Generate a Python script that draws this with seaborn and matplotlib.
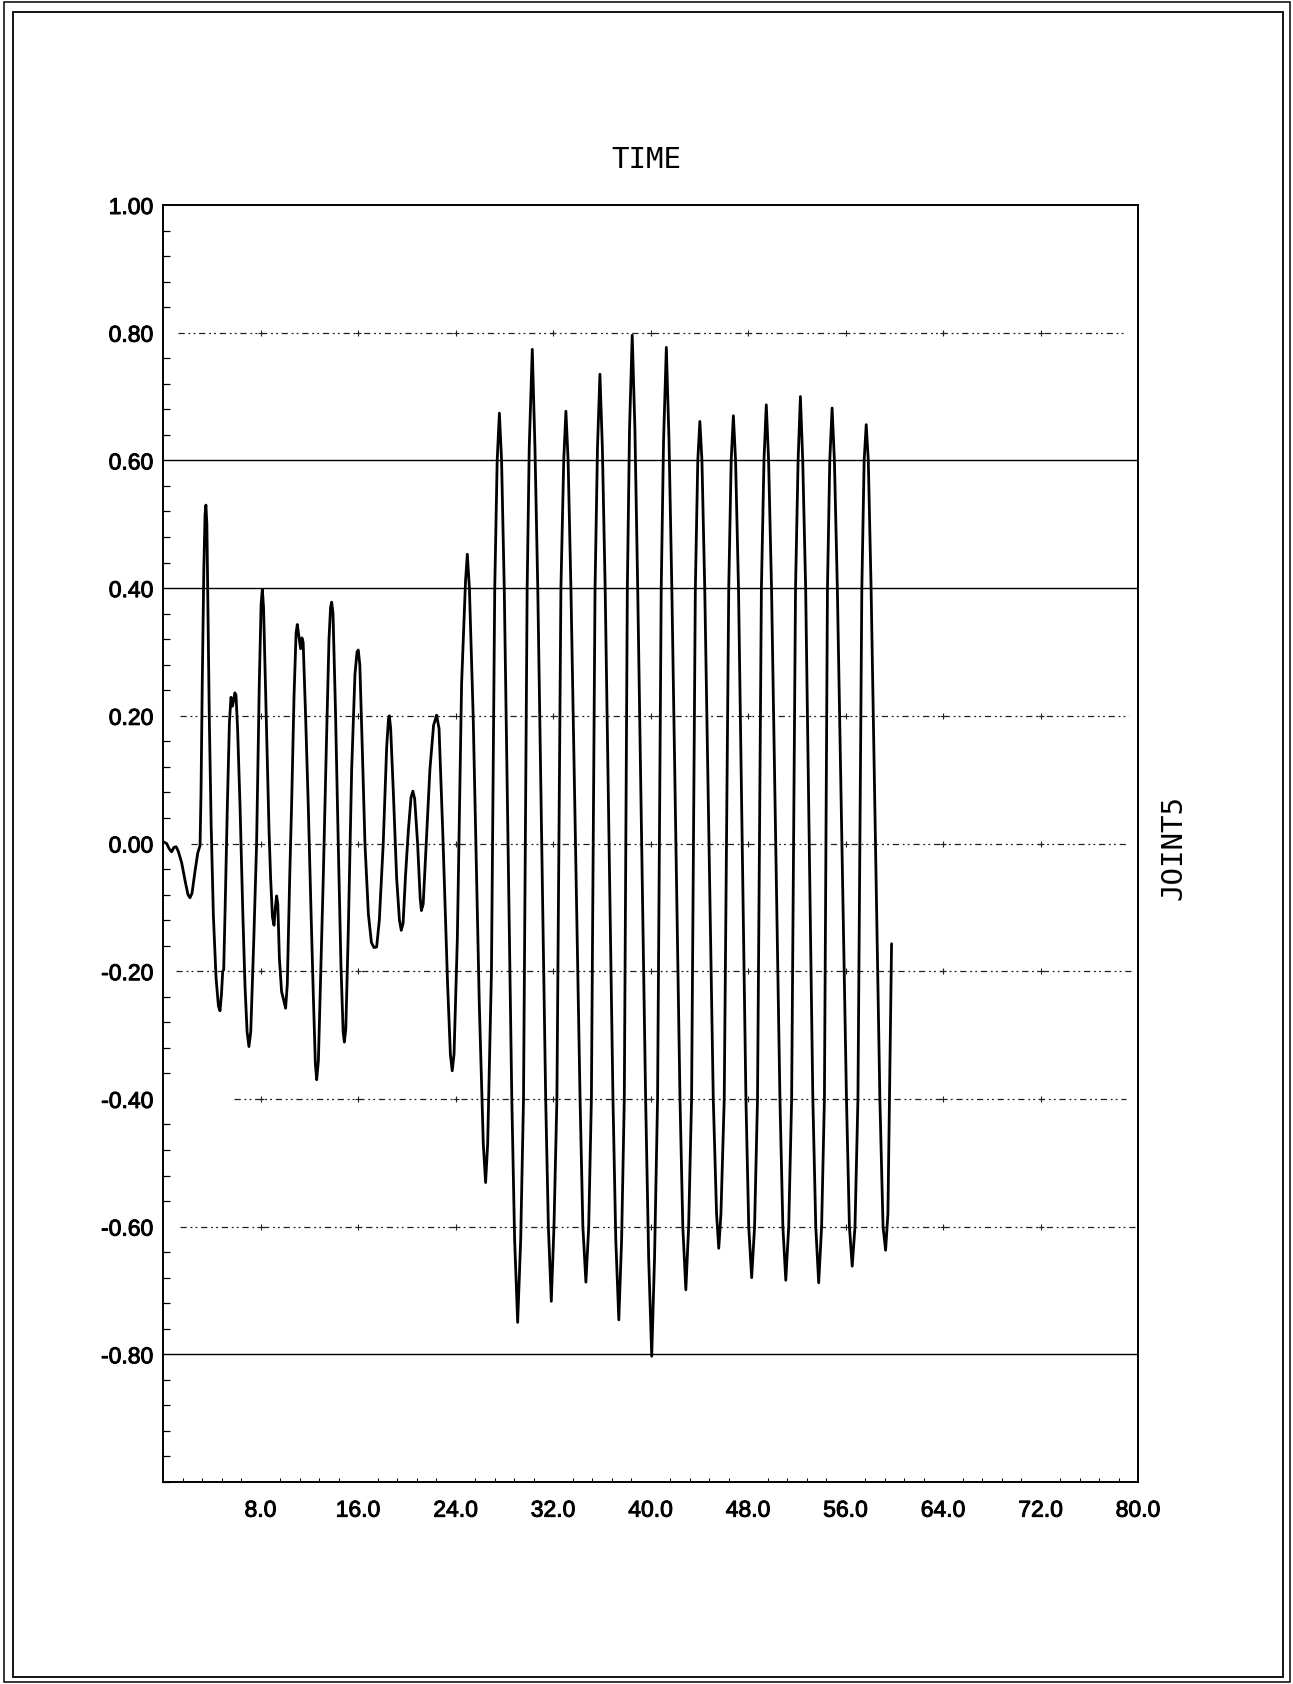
import matplotlib
matplotlib.use("Agg")
import matplotlib.pyplot as plt
import matplotlib.patheffects as pe
from matplotlib.patches import Rectangle
from matplotlib.ticker import FixedLocator, FixedFormatter, MultipleLocator
import pandas as pd
import seaborn as sns

# Joint 5 response over time (sampled trace)
time = [
    0.00, 0.30, 0.50, 0.71, 0.90, 1.07, 1.25, 1.53, 1.85, 2.05,
    2.21, 2.38, 2.63, 2.85, 3.04, 3.12, 3.22, 3.35, 3.45, 3.52,
    3.60, 3.70, 3.80, 3.95, 4.13, 4.35, 4.55, 4.68, 4.80, 4.90,
    4.98, 5.10, 5.28, 5.45, 5.58, 5.70, 5.77, 5.90, 5.99, 6.12,
    6.32, 6.55, 6.73, 6.90, 7.05, 7.20, 7.45, 7.68, 7.90, 8.05,
    8.15, 8.25, 8.50, 8.70, 8.83, 8.98, 9.11, 9.22, 9.32, 9.42,
    9.55, 9.73, 9.90, 10.06, 10.20, 10.40, 10.55, 10.75, 10.92, 11.02,
    11.15, 11.29, 11.40, 11.50, 11.70, 11.92, 12.15, 12.33, 12.50, 12.61,
    12.75, 12.95, 13.15, 13.40, 13.62, 13.75, 13.84, 13.95, 14.15, 14.38,
    14.60, 14.78, 14.88, 15.00, 15.20, 15.48, 15.75, 15.92, 16.02, 16.15,
    16.35, 16.57, 16.85, 17.10, 17.31, 17.53, 17.75, 18.07, 18.35, 18.50,
    18.57, 18.68, 18.90, 19.17, 19.40, 19.55, 19.70, 19.90, 20.13, 20.35,
    20.50, 20.65, 20.89, 21.10, 21.20, 21.35, 21.60, 21.90, 22.20, 22.45,
    22.65, 22.95, 23.35, 23.58, 23.73, 23.88, 24.15, 24.50, 24.82, 24.97,
    25.14, 25.45, 25.95, 26.28, 26.47, 26.64, 26.95, 27.22, 27.42, 27.60,
    27.78, 28.00, 28.62, 28.85, 29.10, 29.35, 29.58, 29.88, 30.05, 30.30,
    30.52, 30.75, 31.40, 31.62, 31.86, 32.08, 32.32, 32.65, 32.88, 33.06,
    33.24, 33.47, 34.22, 34.45, 34.70, 34.93, 35.15, 35.45, 35.65, 35.85,
    36.05, 36.28, 36.92, 37.15, 37.40, 37.63, 37.85, 38.10, 38.28, 38.50,
    38.72, 38.95, 39.60, 39.85, 40.10, 40.33, 40.58, 40.88, 41.07, 41.30,
    41.52, 41.75, 42.42, 42.65, 42.90, 43.13, 43.37, 43.68, 43.88, 44.05,
    44.22, 44.45, 45.15, 45.42, 45.60, 45.78, 46.05, 46.42, 46.62, 46.80,
    46.98, 47.22, 47.83, 48.06, 48.30, 48.54, 48.78, 49.10, 49.31, 49.50,
    49.69, 49.93, 50.62, 50.86, 51.10, 51.34, 51.58, 51.90, 52.11, 52.30,
    52.49, 52.73, 53.32, 53.56, 53.80, 54.04, 54.27, 54.52, 54.71, 54.90,
    55.09, 55.33, 56.08, 56.32, 56.55, 56.78, 57.02, 57.34, 57.53, 57.70,
    57.87, 58.10, 58.82, 59.08, 59.29, 59.48, 59.78,
]
joint5 = [
    0.003, 0.000, -0.008, -0.013, -0.006, -0.005, -0.012, -0.030, -0.062, -0.080,
    -0.085, -0.078, -0.043, -0.015, -0.003, 0.080, 0.250, 0.430, 0.515, 0.530,
    0.500, 0.350, 0.195, 0.030, -0.111, -0.210, -0.255, -0.262, -0.235, -0.200,
    -0.198, -0.100, 0.059, 0.190, 0.229, 0.215, 0.222, 0.236, 0.232, 0.180,
    0.059, -0.110, -0.224, -0.295, -0.318, -0.295, -0.150, 0.000, 0.250, 0.375,
    0.398, 0.370, 0.172, 0.020, -0.054, -0.115, -0.128, -0.100, -0.082, -0.095,
    -0.180, -0.232, -0.245, -0.258, -0.220, -0.050, 0.059, 0.230, 0.330, 0.343,
    0.325, 0.305, 0.322, 0.315, 0.200, 0.059, -0.110, -0.235, -0.345, -0.370,
    -0.340, -0.200, -0.054, 0.150, 0.320, 0.370, 0.378, 0.360, 0.210, 0.000,
    -0.190, -0.295, -0.311, -0.290, -0.140, 0.116, 0.265, 0.300, 0.303, 0.280,
    0.150, 0.000, -0.110, -0.155, -0.163, -0.162, -0.120, 0.000, 0.150, 0.195,
    0.200, 0.180, 0.080, -0.054, -0.120, -0.136, -0.125, -0.050, 0.020, 0.072,
    0.082, 0.070, 0.000, -0.085, -0.105, -0.095, 0.000, 0.116, 0.185, 0.201,
    0.180, 0.020, -0.220, -0.330, -0.356, -0.330, -0.150, 0.250, 0.410, 0.453,
    0.400, 0.200, -0.250, -0.470, -0.531, -0.470, -0.200, 0.400, 0.600, 0.674,
    0.600, 0.400, -0.400, -0.620, -0.750, -0.620, -0.400, 0.400, 0.620, 0.774,
    0.620, 0.400, -0.400, -0.600, -0.717, -0.600, -0.400, 0.400, 0.600, 0.677,
    0.600, 0.400, -0.400, -0.600, -0.687, -0.600, -0.400, 0.400, 0.620, 0.735,
    0.620, 0.400, -0.400, -0.620, -0.746, -0.620, -0.400, 0.400, 0.650, 0.796,
    0.650, 0.400, -0.400, -0.650, -0.803, -0.650, -0.400, 0.400, 0.630, 0.777,
    0.630, 0.400, -0.400, -0.600, -0.699, -0.600, -0.400, 0.400, 0.600, 0.661,
    0.600, 0.400, -0.400, -0.580, -0.634, -0.580, -0.400, 0.400, 0.600, 0.670,
    0.600, 0.400, -0.400, -0.600, -0.680, -0.600, -0.400, 0.400, 0.600, 0.687,
    0.600, 0.400, -0.400, -0.600, -0.684, -0.600, -0.400, 0.400, 0.600, 0.700,
    0.600, 0.400, -0.400, -0.600, -0.688, -0.600, -0.400, 0.400, 0.600, 0.682,
    0.600, 0.400, -0.400, -0.600, -0.662, -0.600, -0.400, 0.400, 0.600, 0.656,
    0.600, 0.400, -0.400, -0.600, -0.637, -0.580, -0.157,
]

y_tick_values = [1.0, 0.8, 0.6, 0.4, 0.2, 0.0, -0.2, -0.4, -0.6, -0.8]
y_tick_labels = ["1.00", "0.80", "0.60", "0.40", "0.20", "0.00",
                 "-0.20", "-0.40", "-0.60", "-0.80"]
x_tick_values = [8, 16, 24, 32, 40, 48, 56, 64, 72, 80]
x_tick_labels = ["8.0", "16.0", "24.0", "32.0", "40.0", "48.0",
                 "56.0", "64.0", "72.0", "80.0"]

# reference levels: solid rules and broken dotted rules (with their extents)
solid_levels = [0.6, 0.4, -0.8]
dotted_levels = [0.8, 0.2, 0.0, -0.2, -0.4, -0.6]
dotted_starts = [1.2, 1.4, 2.3, 1.1, 5.8, 1.4]
dotted_ends = [79.0, 79.3, 79.3, 79.4, 79.0, 80.0]
cross_positions = [8, 16, 24, 32, 40, 48, 56, 64, 72]

sns.set_theme(style="white")
plt.rcParams["axes.unicode_minus"] = False
plt.rcParams["font.family"] = ["Liberation Sans", "DejaVu Sans"]

W, H = 1293, 1684
fig = plt.figure(figsize=(W / 100, H / 100), dpi=100)
fig.patch.set_facecolor("white")

# double page border
fig.patches.append(Rectangle((4 / W, 2 / H), 1286 / W, 1680 / H, transform=fig.transFigure,
                             fill=False, edgecolor="black", lw=1.1))
fig.patches.append(Rectangle((13 / W, 7 / H), 1270 / W, 1665 / H, transform=fig.transFigure,
                             fill=False, edgecolor="black", lw=1.3))

ax = fig.add_axes([163 / W, 202 / H, 975 / W, 1277 / H])
ax.set_facecolor("white")

for lvl in solid_levels:
    ax.axhline(lvl, color="black", lw=1.0, zorder=1)
for lvl, x0, x1 in zip(dotted_levels, dotted_starts, dotted_ends):
    ax.hlines(lvl, x0, x1, colors="#222222", lw=0.9,
              linestyles=[(0, (5, 3, 1.5, 2.5, 1.5, 3))], zorder=1)
    xs = [c for c in cross_positions if x0 <= c <= x1]
    ax.plot(xs, [lvl] * len(xs), ls="none", marker="+", ms=4, mew=0.8,
            color="#222222", zorder=1)

df = pd.DataFrame({"TIME": time, "JOINT5": joint5})
sns.lineplot(data=df, x="TIME", y="JOINT5", ax=ax, color="black", lw=2.0,
             estimator=None, sort=False, zorder=3,
             solid_joinstyle="round", solid_capstyle="round")

ax.set_xlim(0, 80)
ax.set_ylim(-1.0, 1.0)
ax.set_xlabel("")
ax.set_ylabel("")

ax.yaxis.set_major_locator(FixedLocator(y_tick_values))
ax.yaxis.set_major_formatter(FixedFormatter(y_tick_labels))
ax.xaxis.set_major_locator(FixedLocator(x_tick_values))
ax.xaxis.set_major_formatter(FixedFormatter(x_tick_labels))
ax.yaxis.set_minor_locator(MultipleLocator(0.04))
ax.xaxis.set_minor_locator(MultipleLocator(1.6))

ax.tick_params(axis="y", which="major", length=0, pad=7, labelsize=16.5, labelcolor="black")
ax.tick_params(axis="x", which="major", length=0, pad=12, labelsize=16.5, labelcolor="black")
ax.tick_params(axis="y", which="minor", direction="in", length=5, width=0.9,
               color="black", left=True)
ax.tick_params(axis="x", which="minor", direction="in", length=3, width=0.7,
               color="black", bottom=True)

# slightly heavier tick-label strokes
for lab in ax.get_xticklabels() + ax.get_yticklabels():
    lab.set_path_effects([pe.withStroke(linewidth=0.7, foreground="black")])

for side in ["left", "right", "top", "bottom"]:
    ax.spines[side].set_visible(True)
    ax.spines[side].set_color("black")
    ax.spines[side].set_linewidth(1.4)

fig.text(646 / W, 1 - 160 / H, "TIME", ha="center", va="center",
         family="DejaVu Sans Mono", fontsize=21, color="black")
fig.text(1173 / W, 1 - 848 / H, "JOINT5", ha="center", va="center", rotation=90,
         family="DejaVu Sans Mono", fontsize=21, color="black")

fig.savefig("out.png", dpi=100, facecolor="white")
